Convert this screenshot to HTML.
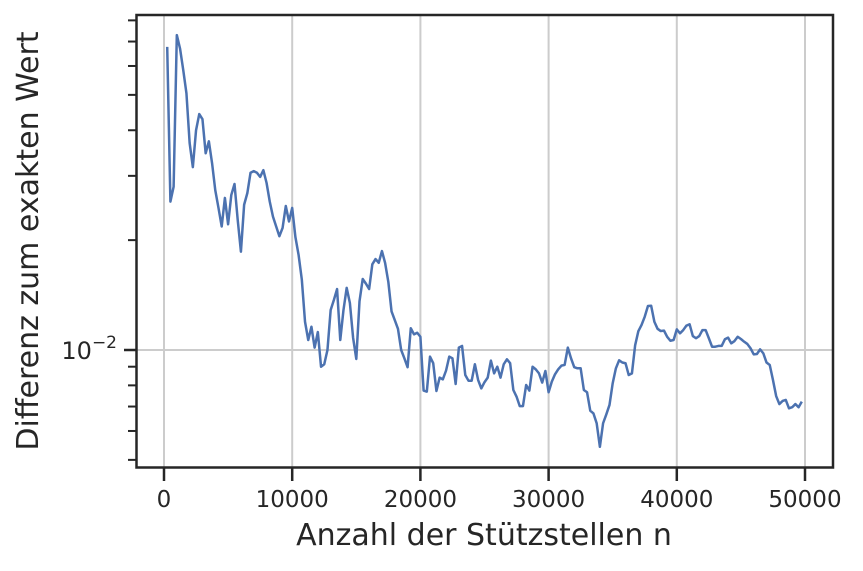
<!DOCTYPE html>
<html><head><meta charset="utf-8"><style>
html,body{margin:0;padding:0;background:#fff;}
svg text{font-family:"DejaVu Sans","Liberation Sans",sans-serif;fill:#262626;}
</style></head><body>
<svg id="chart" width="863" height="566" viewBox="0 0 863 566" xmlns="http://www.w3.org/2000/svg">
<g id="grid"></g>
<g id="series"></g>
<rect x="136.5" y="15" width="696.5" height="452.5" fill="none" stroke="#262626" stroke-width="2.5"/>
<g id="axes"></g>
<text x="484" y="545" font-size="30" text-anchor="middle">Anzahl der Stützstellen n</text>
<text transform="translate(38,241) rotate(-90)" font-size="30" text-anchor="middle">Differenz zum exakten Wert</text>
</svg>
<script>
const nValues = [
250,500,750,1000,1250,1500,1750,2000,2250,2500,2750,3000,3250,3500,3750,4000,4250,4500,4750,5000,
5250,5500,5750,6000,6250,6500,6750,7000,7250,7500,7750,8000,8250,8500,8750,9000,9250,9500,9750,10000,
10250,10500,10750,11000,11250,11500,11750,12000,12250,12500,12750,13000,13250,13500,13750,14000,14250,14500,14750,15000,
15250,15500,15750,16000,16250,16500,16750,17000,17250,17500,17750,18000,18250,18500,18750,19000,19250,19500,19750,20000,
20250,20500,20750,21000,21250,21500,21750,22000,22250,22500,22750,23000,23250,23500,23750,24000,24250,24500,24750,25000,
25250,25500,25750,26000,26250,26500,26750,27000,27250,27500,27750,28000,28250,28500,28750,29000,29250,29500,29750,30000,
30250,30500,30750,31000,31250,31500,31750,32000,32250,32500,32750,33000,33250,33500,33750,34000,34250,34500,34750,35000,
35250,35500,35750,36000,36250,36500,36750,37000,37250,37500,37750,38000,38250,38500,38750,39000,39250,39500,39750,40000,
40250,40500,40750,41000,41250,41500,41750,42000,42250,42500,42750,43000,43250,43500,43750,44000,44250,44500,44750,45000,
45250,45500,45750,46000,46250,46500,46750,47000,47250,47500,47750,48000,48250,48500,48750,49000,49250,49500,49750];
const diffValues = [
.0677,.0255,.0280,.0729,.0670,.0585,.0505,.0369,.0317,.0400,.0443,.0429,.0346,.0373,.0325,.0274,.0245,.0218,.0261,.0221,
.0266,.0285,.0227,.0186,.0250,.0269,.0306,.0309,.0306,.0298,.0311,.0287,.0255,.0232,.0218,.0205,.0216,.0248,.0225,.0245,
.0204,.0182,.0156,.01195,.01065,.01158,.01015,.0112,.0090,.00914,.0100,.01287,.01371,.01469,.01065,.01287,.0148,.01345,.0108,.00945,
.0136,.01565,.0152,.01469,.01717,.01775,.01734,.01867,.0173,.01535,.01275,.01208,.01143,.0100,.00949,.00897,.01147,.01104,.01115,.01087,
.00774,.00769,.00959,.0092,.00772,.0084,.00831,.00878,.00959,.00949,.00807,.01015,.01026,.00854,.00824,.00824,.00914,.00828,.00785,.00816,
.0084,.00935,.00863,.0090,.0084,.00914,.00943,.0092,.00777,.00745,.00702,.00702,.00802,.00774,.0090,.00885,.00863,.00814,.00876,.00766,
.00819,.00858,.00885,.00906,.0091,.01015,.00949,.00897,.00891,.00891,.00777,.00766,.00682,.0067,.0063,.00543,.0063,.00666,.00707,.00811,
.00891,.00937,.00924,.0092,.00854,.00863,.0103,.01126,.01171,.01234,.0132,.01322,.01195,.01143,.01127,.0113,.01087,.0106,.01065,.01139,
.01111,.01134,.01166,.01176,.01092,.01077,.01092,.01134,.01134,.01077,.01021,.01021,.01026,.01026,.0107,.01081,.01043,.01058,.01087,.01072,
.01054,.01039,.01011,.00973,.00975,.01004,.00979,.00924,.0091,.00828,.00748,.00711,.00725,.0073,.00692,.00697,.00711,.00697,.00722];
const xTicks = [0,10000,20000,30000,40000,50000];
const yMinorTicks = [0.005,0.006,0.007,0.008,0.009,0.02,0.03,0.04,0.05,0.06,0.07,0.08];

const NS = "http://www.w3.org/2000/svg";
function xScale(v){ return 164 + v * (805 - 164) / 50000; }
function yScale(v){ return 350 - 365 * (Math.log10(v) + 2); }
function mk(tag, attrs, parent){
  const e = document.createElementNS(NS, tag);
  for (const k in attrs) e.setAttribute(k, attrs[k]);
  parent.appendChild(e); return e;
}
const grid = document.getElementById('grid');
const axes = document.getElementById('axes');
const series = document.getElementById('series');

xTicks.forEach(t => {
  const x = xScale(t);
  const g = mk('line', {x1:x, x2:x, y1:15, y2:467.5, stroke:'#cccccc', 'stroke-width':2}, grid);
  
  
  const tk = mk('line', {x1:x, x2:x, y1:467.5, y2:481, stroke:'#262626', 'stroke-width':2.5}, axes);
  
  
  const lb = mk('text', {x:x, y:507, 'font-size':23, 'text-anchor':'middle'}, axes);
  lb.textContent = String(t);
  
  
});
const ym = yScale(0.01);
const yg = mk('line', {x1:136.5, x2:833, y1:ym, y2:ym, stroke:'#cccccc', 'stroke-width':2}, grid);


const ymt = mk('line', {x1:124, x2:136.5, y1:ym, y2:ym, stroke:'#262626', 'stroke-width':2.5}, axes);


const yl = mk('text', {x:117, y:ym+9, 'font-size':24, 'text-anchor':'end'}, axes);


yl.innerHTML = '10<tspan dy="-11" font-size="17">−2</tspan>';
yMinorTicks.forEach(v => {
  const y = yScale(v);
  const m = mk('line', {x1:128, x2:136.5, y1:y, y2:y, stroke:'#262626', 'stroke-width':2}, axes);
  
  
});
const d = nValues.map((n,i) => (i ? 'L' : 'M') + xScale(n).toFixed(2) + ' ' + yScale(diffValues[i]).toFixed(2)).join(' ');
const line = mk('path', {d:d, fill:'none', stroke:'#4c72b0', 'stroke-width':2.5, 'stroke-linejoin':'round'}, series);


</script>
</body></html>
